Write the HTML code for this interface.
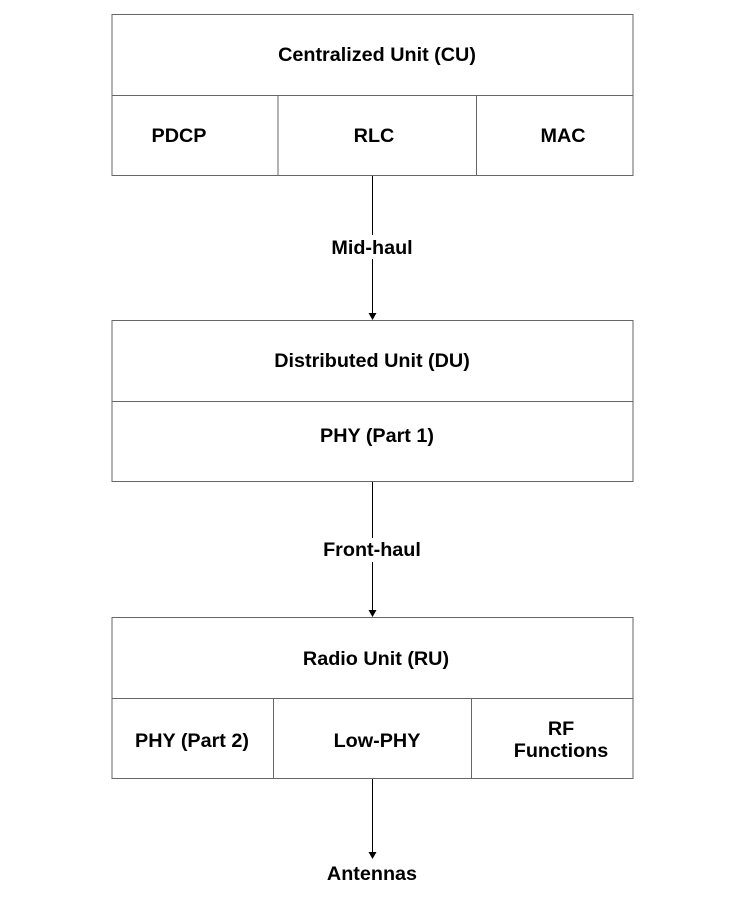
<!DOCTYPE html>
<html><head><style>
body{margin:0;background:#fff;}
svg text{font-family:"Liberation Sans",Arial,sans-serif;font-weight:bold;font-size:19.8px;fill:#000;text-anchor:middle;dominant-baseline:central;}
</style></head><body>
<svg width="752" height="894" xmlns="http://www.w3.org/2000/svg">
<g fill="none" stroke="#666" stroke-width="1">
<rect x="112" y="14.5" width="521" height="161"/>
<line x1="112" y1="95.5" x2="633" y2="95.5"/>
<line x1="278" y1="95.5" x2="278" y2="175.5"/>
<line x1="476.5" y1="95.5" x2="476.5" y2="175.5"/>
<rect x="112" y="320.5" width="521" height="161"/>
<line x1="112" y1="401.5" x2="633" y2="401.5"/>
<rect x="112" y="617.5" width="521" height="161"/>
<line x1="112" y1="698.5" x2="633" y2="698.5"/>
<line x1="273.5" y1="698.5" x2="273.5" y2="778.5"/>
<line x1="471.5" y1="698.5" x2="471.5" y2="778.5"/>
</g>
<g stroke="#000" stroke-width="1">
<line x1="372.5" y1="176" x2="372.5" y2="314"/>
<line x1="372.5" y1="482" x2="372.5" y2="611"/>
<line x1="372.5" y1="779" x2="372.5" y2="853"/>
</g>
<g fill="#000">
<polygon points="368.5,313 376.5,313 372.5,320"/>
<polygon points="368.5,610 376.5,610 372.5,617"/>
<polygon points="368.5,852 376.5,852 372.5,859"/>
</g>
<rect x="320" y="235" width="105" height="24" fill="#fff"/>
<rect x="312" y="538" width="122" height="24" fill="#fff"/>
<text x="377" y="55">Centralized Unit (CU)</text>
<text x="179" y="136">PDCP</text>
<text x="374" y="136">RLC</text>
<text x="563" y="136">MAC</text>
<text x="372" y="248">Mid-haul</text>
<text x="372" y="361">Distributed Unit (DU)</text>
<text x="377" y="436">PHY (Part 1)</text>
<text x="372" y="550">Front-haul</text>
<text x="376" y="659">Radio Unit (RU)</text>
<text x="192" y="741">PHY (Part 2)</text>
<text x="377" y="741">Low-PHY</text>
<text x="561" y="729">RF</text>
<text x="561" y="751">Functions</text>
<text x="372" y="874">Antennas</text>
</svg>
</body></html>
